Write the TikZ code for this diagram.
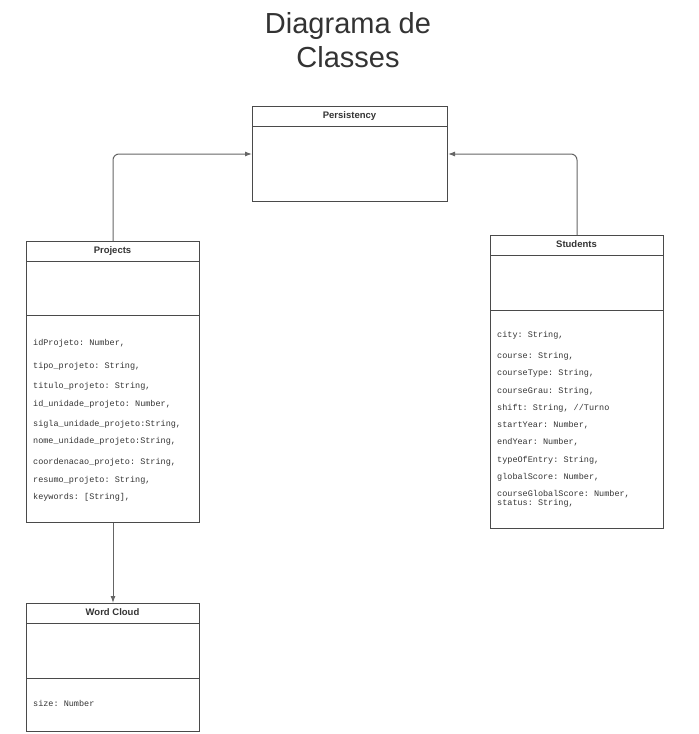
\documentclass[tikz,border=0pt]{standalone}
\usepackage{fontspec}
\setmainfont{Liberation Sans}
\newfontfamily\monof{Liberation Mono}
\usetikzlibrary{arrows.meta}
\definecolor{linec}{HTML}{4A4A4A}
\definecolor{txtc}{HTML}{333333}
\frenchspacing
\begin{document}
\begin{tikzpicture}[x=1pt,y=-1pt,
  classbox/.style={draw=linec,line width=1pt,rectangle,anchor=north west,inner sep=0pt},
  hdr/.style={font=\bfseries\fontsize{9.5}{11}\selectfont,text=txtc},
  attr/.style={anchor=west,inner sep=0pt,font=\frenchspacing\monof\fontsize{8.5}{9}\selectfont,text=txtc},
  conn/.style={draw=linec!85,line width=1pt,-{Latex[length=7pt,width=5pt]}},
  sep/.style={draw=linec,line width=1pt}]
\useasboundingbox (0,0) rectangle (699,734);
\node[text=txtc,font=\fontsize{29}{34}\selectfont,align=center] (title) at (348,40) {Diagrama de\\Classes};
% Persistency
\node[classbox,minimum width=195pt,minimum height=95pt] (pers) at (252,106) {};
\draw[sep] (252,126) -- (447,126);
\node[hdr] (persh) at (349.5,116) {Persistency};
% Projects
\node[classbox,minimum width=173pt,minimum height=281pt] (proj) at (26,241) {};
\draw[sep] (26,261) -- (199,261);
\draw[sep] (26,315) -- (199,315);
\node[hdr] (projh) at (112.5,251) {Projects};
\node[attr] (p1) at (33,343) {idProjeto: Number,};
\node[attr] (p2) at (33,366) {tipo\_projeto: String,};
\node[attr] (p3) at (33,386) {titulo\_projeto: String,};
\node[attr] (p4) at (33,404) {id\_unidade\_projeto: Number,};
\node[attr] (p5) at (33,424) {sigla\_unidade\_projeto:String,};
\node[attr] (p6) at (33,441) {nome\_unidade\_projeto:String,};
\node[attr] (p7) at (33,462) {coordenacao\_projeto: String,};
\node[attr] (p8) at (33,480) {resumo\_projeto: String,};
\node[attr] (p9) at (33,497) {keywords: [String],};
% Students
\node[classbox,minimum width=173pt,minimum height=293pt] (stud) at (490,235) {};
\draw[sep] (490,255) -- (663,255);
\draw[sep] (490,310) -- (663,310);
\node[hdr] (studh) at (576.5,244) {Students};
\node[attr] (s1) at (497,335) {city: String,};
\node[attr] (s2) at (497,356) {course: String,};
\node[attr] (s3) at (497,373) {courseType: String,};
\node[attr] (s4) at (497,391) {courseGrau: String,};
\node[attr] (s5) at (497,408) {shift: String, //Turno};
\node[attr] (s6) at (497,425) {startYear: Number,};
\node[attr] (s7) at (497,442) {endYear: Number,};
\node[attr] (s8) at (497,460) {typeOfEntry: String,};
\node[attr] (s9) at (497,477) {globalScore: Number,};
\node[attr] (s10) at (497,494) {courseGlobalScore: Number,};
\node[attr] (s11) at (497,503) {status: String,};
% Word Cloud
\node[classbox,minimum width=173pt,minimum height=128pt] (wc) at (26,603) {};
\draw[sep] (26,623) -- (199,623);
\draw[sep] (26,678) -- (199,678);
\node[hdr] (wch) at (112.5,612) {Word Cloud};
\node[attr] (w1) at (33,703) {size: Number};
% connectors
\draw[conn,rounded corners=6pt] (proj.north) |- (pers.west);
\draw[conn,rounded corners=6pt] (stud.north) |- (pers.east);
\draw[conn] (proj.south) -- (wc.north);
\end{tikzpicture}
\end{document}
